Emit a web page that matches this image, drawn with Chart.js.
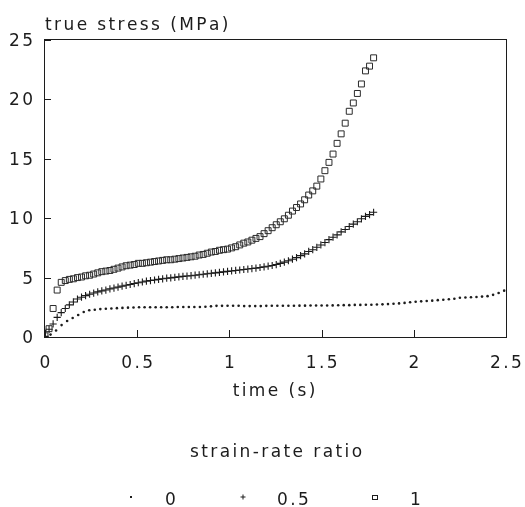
<!DOCTYPE html>
<html>
<head>
<meta charset="utf-8">
<script src="https://cdn.jsdelivr.net/npm/chart.js@4"></script>
<style>
  html, body { margin: 0; padding: 0; background: #fff; }
  #chart { display: block; }
</style>
</head>
<body>
<canvas id="chart" width="525" height="507"></canvas>
<script>
// time axis for the 0.5 and 1 series (s)
var timeFast = [
    0, 0.022, 0.044, 0.066, 0.088, 0.11, 0.132, 0.154, 0.176, 0.198,
    0.22, 0.242, 0.264, 0.286, 0.308, 0.33, 0.352, 0.374, 0.396, 0.418,
    0.44, 0.462, 0.484, 0.506, 0.528, 0.55, 0.572, 0.594, 0.616, 0.638,
    0.66, 0.682, 0.704, 0.726, 0.748, 0.77, 0.792, 0.814, 0.836, 0.858,
    0.88, 0.902, 0.924, 0.946, 0.968, 0.99, 1.012, 1.034, 1.056, 1.078,
    1.1, 1.122, 1.144, 1.166, 1.188, 1.21, 1.232, 1.254, 1.276, 1.298,
    1.32, 1.342, 1.364, 1.386, 1.408, 1.43, 1.452, 1.474, 1.496, 1.518,
    1.54, 1.562, 1.584, 1.606, 1.628, 1.65, 1.672, 1.694, 1.716, 1.738,
    1.76, 1.782
];
// strain-rate ratio 1 (squares), MPa
var stressRatio1 = [
    0.1, 0.7, 2.4, 3.95, 4.6, 4.75, 4.85, 4.9, 5.0, 5.05,
    5.15, 5.2, 5.3, 5.4, 5.5, 5.55, 5.6, 5.7, 5.8, 5.9,
    6.0, 6.05, 6.1, 6.2, 6.2, 6.25, 6.3, 6.35, 6.4, 6.45,
    6.5, 6.5, 6.55, 6.6, 6.65, 6.7, 6.75, 6.8, 6.9, 6.95,
    7.05, 7.15, 7.2, 7.3, 7.35, 7.4, 7.5, 7.6, 7.75, 7.9,
    8.0, 8.15, 8.3, 8.45, 8.7, 8.95, 9.2, 9.45, 9.7, 9.95,
    10.25, 10.6, 10.9, 11.2, 11.55, 11.95, 12.3, 12.7, 13.3, 14.0,
    14.7, 15.4, 16.3, 17.1, 18.0, 19.0, 19.7, 20.5, 21.3, 22.4,
    22.8, 23.5
];
// strain-rate ratio 0.5 (crosses), MPa
var stressRatio05 = [
    0.05, 0.65, 1.1, 1.65, 2.05, 2.4, 2.7, 2.95, 3.2, 3.35,
    3.48, 3.6, 3.7, 3.8, 3.88, 3.95, 4.05, 4.12, 4.2, 4.28,
    4.35, 4.42, 4.5, 4.57, 4.63, 4.7, 4.75, 4.8, 4.85, 4.9,
    4.95, 4.98, 5.02, 5.06, 5.1, 5.13, 5.16, 5.2, 5.24, 5.28,
    5.32, 5.36, 5.4, 5.44, 5.48, 5.52, 5.56, 5.6, 5.64, 5.68,
    5.72, 5.76, 5.8, 5.85, 5.9, 5.96, 6.02, 6.1, 6.2, 6.3,
    6.42, 6.55, 6.68, 6.85, 7.0, 7.2, 7.35, 7.55, 7.75, 7.95,
    8.2, 8.4, 8.6, 8.85, 9.05, 9.3, 9.5, 9.7, 9.95, 10.15,
    10.3, 10.5
];
// time axis for the 0 series (s)
var timeSlow = [
    0, 0.03, 0.06, 0.09, 0.12, 0.15, 0.18, 0.21, 0.24, 0.27,
    0.3, 0.33, 0.36, 0.39, 0.42, 0.45, 0.48, 0.51, 0.54, 0.57,
    0.6, 0.63, 0.66, 0.69, 0.72, 0.75, 0.78, 0.81, 0.84, 0.87,
    0.9, 0.93, 0.96, 0.99, 1.02, 1.05, 1.08, 1.11, 1.14, 1.17,
    1.2, 1.23, 1.26, 1.29, 1.32, 1.35, 1.38, 1.41, 1.44, 1.47,
    1.5, 1.53, 1.56, 1.59, 1.62, 1.65, 1.68, 1.71, 1.74, 1.77,
    1.8, 1.83, 1.86, 1.89, 1.92, 1.95, 1.98, 2.01, 2.04, 2.07,
    2.1, 2.13, 2.16, 2.19, 2.22, 2.25, 2.28, 2.31, 2.34, 2.37,
    2.4, 2.43, 2.46, 2.49
];
// strain-rate ratio 0 (dots), MPa
var stressRatio0 = [
    0, 0.2, 0.55, 1.0, 1.35, 1.6, 1.85, 2.1, 2.25, 2.3,
    2.35, 2.38, 2.4, 2.43, 2.45, 2.47, 2.48, 2.5, 2.5, 2.5,
    2.5, 2.5, 2.5, 2.51, 2.52, 2.52, 2.53, 2.53, 2.53, 2.55,
    2.58, 2.62, 2.62, 2.63, 2.63, 2.63, 2.6, 2.6, 2.6, 2.6,
    2.62, 2.63, 2.63, 2.63, 2.63, 2.63, 2.64, 2.64, 2.65, 2.65,
    2.65, 2.65, 2.66, 2.67, 2.68, 2.68, 2.7, 2.7, 2.71, 2.72,
    2.73, 2.75, 2.77, 2.8, 2.83, 2.87, 2.92, 2.97, 3.0, 3.03,
    3.06, 3.1, 3.14, 3.18, 3.22, 3.3, 3.33, 3.35, 3.37, 3.4,
    3.44, 3.55, 3.7, 3.9
];
var seriesLabels = ['0', '0.5', '1'];
var xTicks = [0, 0.5, 1, 1.5, 2, 2.5];
var yTicks = [0, 5, 10, 15, 20, 25];

var INK = '#1c1c1c';
var FONT = '17px "DejaVu Sans"';
var SPACING = 2.4;

function toPoints(xs, ys) {
    var pts = [];
    for (var i = 0; i < ys.length; i++) {
        pts.push({x: xs[i], y: ys[i]});
    }
    return pts;
}

// text with extra room between the letters, drawn one glyph at a time
function spacedText(ctx, str, x, y, align) {
    var widths = [], total = 0;
    for (var i = 0; i < str.length; i++) {
        widths.push(ctx.measureText(str[i]).width);
        total += widths[i];
    }
    total += SPACING * (str.length - 1);
    var cx = x;
    if (align === 'center') cx = x - total / 2;
    if (align === 'right') cx = x - total;
    ctx.textAlign = 'left';
    for (var j = 0; j < str.length; j++) {
        ctx.fillText(str[j], cx, y);
        cx += widths[j] + SPACING;
    }
}

function drawMarker(ctx, style, x, y) {
    if (style === 'dot') {
        ctx.fillRect(x - 1, y - 1, 2, 2);
    } else if (style === 'cross') {
        ctx.fillRect(x - 2.5, y - 0.5, 5, 1);
        ctx.fillRect(x - 0.5, y - 2.5, 1, 5);
    } else {
        ctx.fillRect(x - 3, y - 2, 6, 1);
        ctx.fillRect(x - 3, y + 2, 6, 1);
        ctx.fillRect(x - 3, y - 2, 1, 5);
        ctx.fillRect(x + 2, y - 2, 1, 5);
    }
}

// frame (just outside the plot area), inward ticks, tick labels, titles, legend
var decorations = {
    id: 'decorations',
    afterDraw: function(chart) {
        var ctx = chart.ctx;
        var xs = chart.scales.x, ys = chart.scales.y;
        var left = Math.round(xs.getPixelForValue(0)) - 1;
        var right = Math.round(xs.getPixelForValue(2.5));
        var top = Math.round(ys.getPixelForValue(25)) - 1;
        var bottom = Math.round(ys.getPixelForValue(0));
        ctx.save();
        ctx.fillStyle = INK;

        ctx.fillRect(left, top, right - left + 1, 1);
        ctx.fillRect(left, bottom, right - left + 1, 1);
        ctx.fillRect(left, top, 1, bottom - top + 1);
        ctx.fillRect(right, top, 1, bottom - top + 1);
        yTicks.forEach(function(v) {
            ctx.fillRect(left, Math.round(ys.getPixelForValue(v)), 7, 1);
        });
        xTicks.forEach(function(v) {
            ctx.fillRect(Math.round(xs.getPixelForValue(v)), bottom - 7, 1, 8);
        });

        var items = [
            {style: 'dot', mx: 131, tx: 165},
            {style: 'cross', mx: 243, tx: 277},
            {style: 'rect', mx: 375, tx: 410}
        ];
        items.forEach(function(it) {
            drawMarker(ctx, it.style, it.mx, 497);
        });

        ctx.font = FONT;
        ctx.textBaseline = 'alphabetic';

        yTicks.forEach(function(v) {
            spacedText(ctx, String(v), 33, ys.getPixelForValue(v) + 6, 'right');
        });
        xTicks.forEach(function(v) {
            spacedText(ctx, String(v), xs.getPixelForValue(v), 368, 'center');
        });

        spacedText(ctx, 'true stress (MPa)', 45, 30, 'left');
        spacedText(ctx, 'time (s)', 274, 396, 'center');
        spacedText(ctx, 'strain-rate ratio', 276, 457, 'center');
        items.forEach(function(it, i) {
            spacedText(ctx, seriesLabels[i], it.tx, 505, 'left');
        });
        ctx.restore();
    }
};

new Chart(document.getElementById('chart'), {
    type: 'scatter',
    data: {
        datasets: [{
            label: seriesLabels[0],
            data: toPoints(timeSlow, stressRatio0),
            pointStyle: 'circle',
            pointRadius: 1.3,
            pointBorderWidth: 0,
            pointBackgroundColor: INK
        }, {
            label: seriesLabels[1],
            data: toPoints(timeFast, stressRatio05),
            pointStyle: 'cross',
            pointRadius: 3.6,
            pointBorderWidth: 1.1,
            pointBorderColor: '#1a1a1a'
        }, {
            label: seriesLabels[2],
            data: toPoints(timeFast, stressRatio1),
            pointStyle: 'rect',
            pointRadius: 4.2,
            pointBorderWidth: 1,
            pointBorderColor: '#2a2a2a',
            pointBackgroundColor: 'rgba(0,0,0,0)'
        }]
    },
    options: {
        responsive: false,
        devicePixelRatio: 1,
        animation: false,
        layout: {
            padding: {top: 40, right: 19, left: 0, bottom: 0}
        },
        plugins: {
            legend: {display: false},
            tooltip: {enabled: false}
        },
        scales: {
            x: {
                type: 'linear',
                min: 0,
                max: 2.5,
                afterFit: function(scale) { scale.height = 170; },
                grid: {display: false},
                border: {display: false},
                ticks: {display: false}
            },
            y: {
                type: 'linear',
                min: 0,
                max: 25,
                afterFit: function(scale) { scale.width = 45; },
                grid: {display: false},
                border: {display: false},
                ticks: {display: false}
            }
        }
    },
    plugins: [decorations]
});
</script>
</body>
</html>
